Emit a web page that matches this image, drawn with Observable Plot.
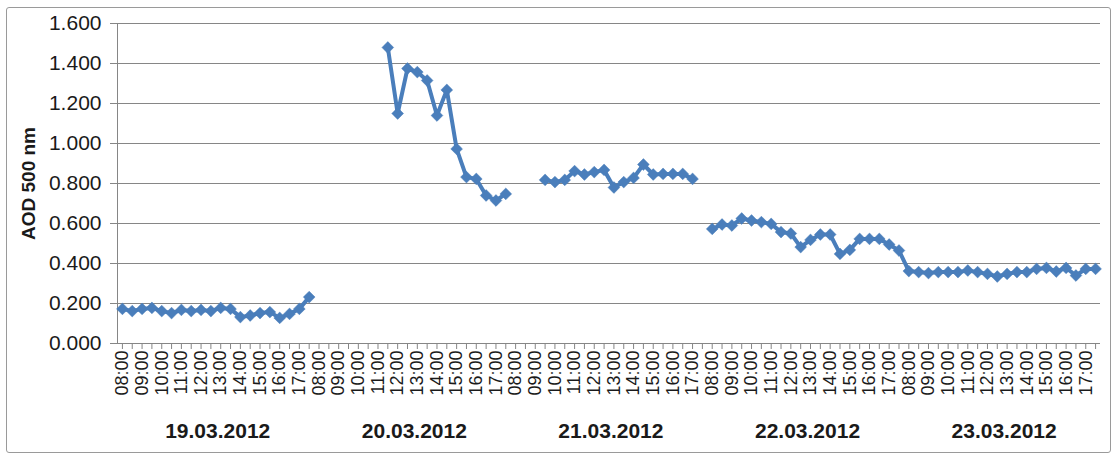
<!DOCTYPE html>
<html>
<head>
<meta charset="utf-8">
<script src="https://cdn.jsdelivr.net/npm/d3@7"></script>
<script src="https://cdn.jsdelivr.net/npm/@observablehq/plot@0.6"></script>
<style>
  html, body { margin: 0; padding: 0; background: #fff; }
  #wrap { position: relative; width: 1120px; height: 455px; }
  #border { position: absolute; left: 6px; top: 7px; width: 1103px; height: 444px;
            border: 1px solid #9a9a9a; border-radius: 3px; pointer-events: none; }
  g[aria-label="y-axis label"] text { font-weight: bold; font-size: 19px; }
</style>
</head>
<body>
<div id="wrap"><div id="border"></div></div>
<script>
const days = ["19.03.2012", "20.03.2012", "21.03.2012", "22.03.2012", "23.03.2012"];
const times = ["08:00","08:30","09:00","09:30","10:00","10:30","11:00","11:30","12:00","12:30",
               "13:00","13:30","14:00","14:30","15:00","15:30","16:00","16:30","17:00","17:30"];
const yTicks = [0, 0.2, 0.4, 0.6, 0.8, 1.0, 1.2, 1.4, 1.6];

const aod19 = [0.173,0.162,0.173,0.178,0.162,0.152,0.168,0.162,0.168,0.162,
               0.178,0.173,0.132,0.140,0.152,0.157,0.128,0.148,0.173,0.232];
const aod20 = [null,null,null,null,null,null,null,1.480,1.150,1.375,
               1.357,1.315,1.140,1.268,0.973,0.832,0.823,0.740,0.715,0.748];
const aod21 = [null,null,null,0.818,0.807,0.818,0.862,0.845,0.857,0.868,
               0.780,0.807,0.828,0.895,0.845,0.848,0.848,0.848,0.823,null];
const aod22 = [0.573,0.595,0.590,0.625,0.615,0.607,0.598,0.557,0.550,0.482,
               0.518,0.545,0.545,0.448,0.468,0.523,0.523,0.523,0.495,0.465];
const aod23 = [0.362,0.357,0.352,0.357,0.357,0.357,0.365,0.357,0.348,0.335,
               0.348,0.357,0.357,0.373,0.378,0.360,0.378,0.340,0.373,0.373];
const series = [aod19, aod20, aod21, aod22, aod23];

const rows = [];
days.forEach((day, di) => times.forEach((t, ti) => {
  rows.push({key: day + " " + t, day, time: t, value: series[di][ti]});
}));
const keys = rows.map(r => r.key);
const timeOf = new Map(rows.map(r => [r.key, r.time]));
const hourKeys = rows.filter(r => r.time.endsWith(":00")).map(r => r.key);
const dayKeys = days.map(d => d + " 13:00");

const blue = "#4a7ebb";
const gray = "#868686";

const chart = Plot.plot({
  width: 1120,
  height: 455,
  marginLeft: 117,
  marginRight: 20,
  marginTop: 23,
  marginBottom: 112,
  style: {fontFamily: "'Liberation Sans', Arial, sans-serif", color: "#1a1a1a", background: "transparent"},
  x: {type: "point", domain: keys, padding: 0.5},
  y: {domain: [0, 1.6]},
  marks: [
    Plot.gridY(yTicks, {stroke: gray, strokeOpacity: 1, strokeWidth: 1}),
    Plot.frame({anchor: "left", stroke: gray}),
    Plot.ruleY([0], {stroke: gray}),
    Plot.axisY({ticks: yTicks, tickFormat: d3.format(".3f"), tickSize: 7, tickPadding: 9,
                stroke: gray, fontSize: 21, label: "AOD 500 nm", labelAnchor: "center",
                labelOffset: 96, labelArrow: "none"}),
    Plot.axisX({ticks: keys, tickSize: 6, stroke: gray, tickFormat: () => "", label: null}),
    Plot.axisX({ticks: hourKeys, tickSize: 0, tickPadding: 7, tickRotate: -90,
                tickFormat: k => timeOf.get(k), fontSize: 18, label: null}),
    Plot.axisX({ticks: dayKeys, tickSize: 0, tickPadding: 80, dx: -3,
                tickFormat: k => k.split(" ")[0], fontSize: 21, fontWeight: "bold", label: null}),
    Plot.line(rows, {x: "key", y: "value", stroke: blue, strokeWidth: 4}),
    Plot.dot(rows.filter(r => r.value != null), {x: "key", y: "value", symbol: "diamond2",
             r: 5.3, fill: blue, stroke: blue, strokeWidth: 0.5})
  ]
});
document.getElementById("wrap").prepend(chart);
</script>
</body>
</html>
